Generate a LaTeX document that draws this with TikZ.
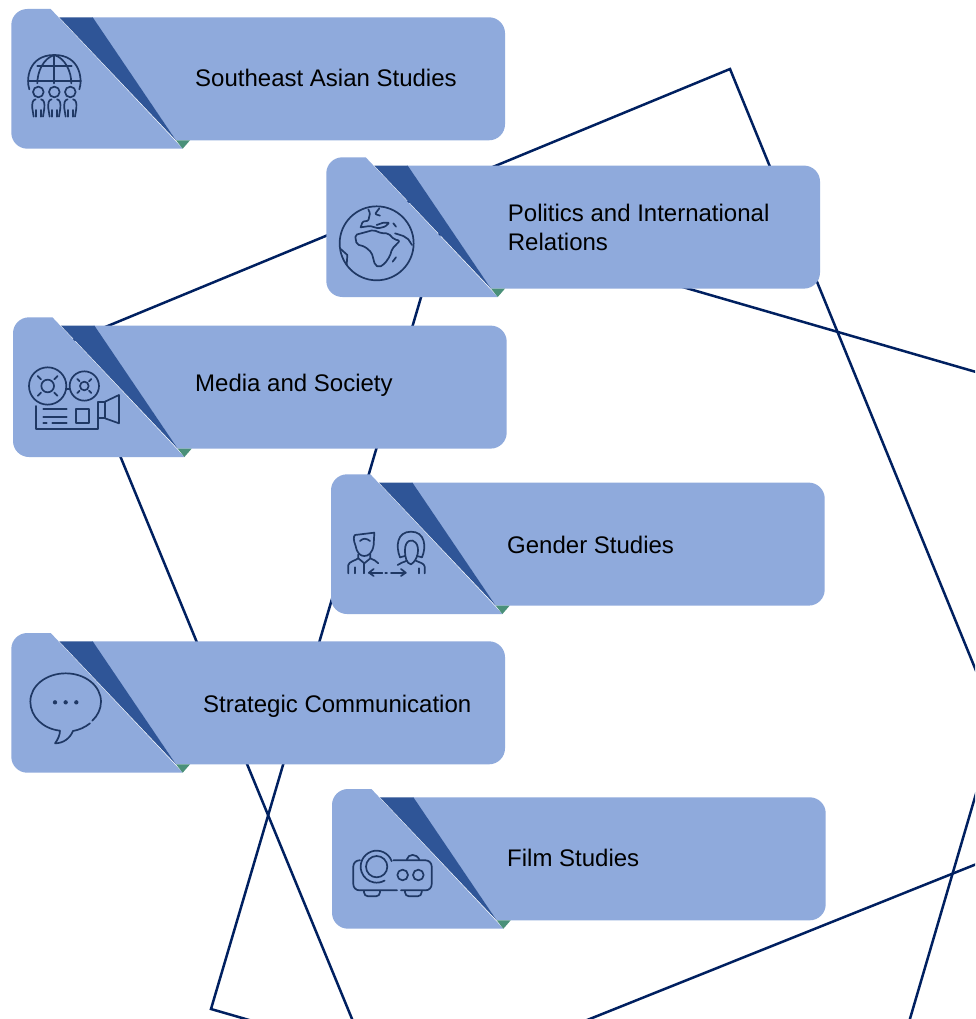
\documentclass[tikz,border=0pt]{standalone}
\usepackage{fontspec}
\usetikzlibrary{calc}
\setmainfont{Liberation Sans}
\definecolor{cardc}{HTML}{8FAADC}
\definecolor{darkc}{HTML}{2F5597}
\definecolor{greenc}{HTML}{4A9079}
\definecolor{linec}{HTML}{002060}
\definecolor{iconc}{HTML}{1F3864}
\newcommand{\cardshape}[2]{%
  \begin{scope}[shift={(#1,#2)}]
    \fill[cardc] (50.7,9) [rounded corners=16pt] -- (11.3,9) -- (11.3,148.7) [sharp corners] -- (182.7,148.7) -- cycle;
    \fill[cardc] (92,17.3) [rounded corners=16pt] -- (505,17.3) -- (505,140.3) [sharp corners] -- (176,140.3) -- cycle;
    \fill[darkc] (59.3,17.3) -- (92.7,17.3) -- (176,140.3) -- cycle;
    \fill[greenc] (176,140.3) -- (190,140.3) -- (182.7,148.7) -- cycle;
  \end{scope}}
\tikzset{
  frameline/.style={draw=linec,line width=2.5pt,line join=miter},
  iconline/.style={draw=iconc,line width=1.7pt,line cap=round,line join=round},
  izoom/.style={x=0.3333pt,y=-0.3333pt},
  cardtext/.style={anchor=base west,inner sep=0pt,text=black,align=left,font=\fontsize{24}{29}\selectfont}
}
\begin{document}
\begin{tikzpicture}[x=1pt,y=-1pt]
\useasboundingbox (0,0) rectangle (975,1019);
\fill[white] (0,0) rectangle (975,1019);
\begin{scope}
\clip (0,0) rectangle (975,1019);
\draw[frameline] (730,69) -- (72.6,340.5) -- (385.7,1100.7) -- (1044,837) -- cycle;
\draw[frameline] (444.4,218) -- (211,1009) -- (858,1196) -- (1090,405) -- cycle;
\end{scope}
\cardshape{0}{0}
\cardshape{315}{148.3}
\cardshape{1.7}{308.3}
\cardshape{319.7}{465.3}
\cardshape{0}{624}
\cardshape{320.7}{780}
\node[cardtext] (t1) at (195,86.7) {Southeast Asian Studies};
\node[cardtext] (t2a) at (507.7,221) {Politics and International};
\node[cardtext] (t2b) at (507.7,250) {Relations};
\node[cardtext] (t3) at (195,391) {Media and Society};
\node[cardtext] (t4) at (507,553) {Gender Studies};
\node[cardtext] (t5) at (203,712) {Strategic Communication};
\node[cardtext] (t6) at (507,866) {Film Studies};
% icon 1: globe and people
\begin{scope}[shift={(0,0)},izoom]
  \draw[iconline] (88,268) .. controls (78,240) and (84,165) .. (163,165) .. controls (242,165) and (248,240) .. (238,268);
  \draw[iconline] (163,165) -- (163,250);
  \draw[iconline] (112,198) -- (215,198);
  \draw[iconline] (84,243) -- (243,243);
  \draw[iconline] (163,165) .. controls (130,175) and (112,215) .. (112,250);
  \draw[iconline] (163,165) .. controls (196,175) and (214,215) .. (214,250);
  \foreach \px in {115,163,211} {
    \draw[iconline] (\px,276) circle[radius=16];
    \draw[iconline] (\px-8,298) .. controls (\px-18,300) and (\px-19,310) .. (\px-18,325) -- (\px-14,350);
    \draw[iconline] (\px+8,298) .. controls (\px+18,300) and (\px+19,310) .. (\px+18,325) -- (\px+14,350);
    \draw[iconline] (\px-8,330) -- (\px-8,350);
    \draw[iconline] (\px+8,330) -- (\px+8,350);
  }
\end{scope}
% icon 2: earth
\begin{scope}[shift={(320,150)},izoom]
  \draw[iconline] (170,280) circle[radius=111];
  \draw[iconline,rounded corners=2pt] (105,255) -- (110,283) -- (135,290) -- (155,308) -- (165,345) -- (178,352) -- (195,340) -- (210,318) -- (216,297) -- (240,272) -- (222,268) -- (205,250) -- (185,250) -- (160,240) -- (135,247) -- cycle;
  \draw[iconline,rounded corners=1pt] (122,232) -- (128,215) -- (145,212) -- (150,190) -- (145,178);
  \draw[iconline,rounded corners=1pt] (178,175) -- (165,192) -- (180,197);
  \draw[iconline,rounded corners=1pt] (122,232) -- (150,228) -- (175,235) -- (195,230) -- (208,218) -- (190,218) -- (170,225);
  \draw[iconline] (62,297) -- (82,315) -- (80,345);
  \draw[iconline] (218,335) -- (228,322);
  \draw[iconline] (220,220) -- (228,230);
  \draw[iconline] (225,250) -- (250,258) -- (265,268) -- (276,285);
\end{scope}
% icon 3: film camera
\begin{scope}[shift={(5,310)},izoom]
  \draw[iconline] (128,228) circle[radius=56];
  \draw[iconline] (128,228) circle[radius=19];
  \draw[iconline] (238,228) circle[radius=44];
  \draw[iconline] (238,228) circle[radius=13];
  \foreach \a in {45,135,225,315} {
    \draw[iconline] ($(128,228)+(\a:28)$) -- ($(128,228)+(\a:42)$);
    \draw[iconline] ($(238,228)+(\a:20)$) -- ($(238,228)+(\a:30)$);
  }
  \draw[iconline] (184,238) -- (194,238);
  \draw[iconline] (92,288) -- (92,358) -- (278,358) -- (278,275) -- (300,275) -- (300,325) -- (278,325);
  \draw[iconline] (300,275) -- (342,255) -- (342,340) -- (300,325);
  \draw[iconline] (115,298) -- (185,298);
  \draw[iconline] (115,320) -- (185,320);
  \draw[iconline] (115,340) -- (125,340);
  \draw[iconline] (142,340) -- (185,340);
  \draw[iconline] (212,298) rectangle (252,340);
\end{scope}
% icon 4: man and woman
\begin{scope}[shift={(325,470)},izoom]
  \draw[iconline] (92,228) .. controls (85,210) and (85,200) .. (90,195) -- (148,188) -- (146,225) .. controls (142,250) and (130,258) .. (118,258) .. controls (106,258) and (96,250) .. (92,228);
  \draw[iconline] (105,213) .. controls (115,203) and (125,205) .. (135,213);
  \draw[iconline] (100,253) -- (100,265) -- (118,280) -- (136,265) -- (136,253);
  \draw[iconline] (70,310) -- (70,285) .. controls (72,275) and (90,272) .. (100,265);
  \draw[iconline] (136,265) .. controls (145,270) and (155,272) .. (160,280);
  \draw[iconline] (118,280) -- (118,310);
  \draw[iconline] (90,292) -- (90,310);
  \draw[iconline] (132,308) -- (172,308);
  \draw[iconline] (146,297) -- (132,308) -- (146,318);
  \draw[iconline] (181,308) -- (186,308);
  \draw[iconline] (198,308) -- (242,308);
  \draw[iconline] (228,297) -- (242,308) -- (228,318);
  \draw[iconline] (225,262) .. controls (212,230) and (215,185) .. (258,185) .. controls (300,185) and (305,230) .. (291,262) -- (276,258);
  \draw[iconline] (225,262) -- (240,258);
  \draw[iconline] (240,240) .. controls (240,210) and (262,205) .. (272,218) .. controls (285,232) and (280,270) .. (258,283) .. controls (245,280) and (240,265) .. (240,240);
  \draw[iconline] (218,285) .. controls (225,278) and (235,278) .. (245,272);
  \draw[iconline] (299,310) -- (299,290) .. controls (298,280) and (285,278) .. (272,272);
  \draw[iconline] (283,295) -- (283,310);
\end{scope}
% icon 5: speech bubble
\begin{scope}[shift={(5,625)},izoom]
  \draw[iconline] (262,287) .. controls (278,272) and (288,252) .. (288,230) .. controls (288,182) and (240,145) .. (182,145) .. controls (124,145) and (76,182) .. (76,230) .. controls (76,275) and (115,312) .. (165,317) .. controls (165,330) and (158,345) .. (150,355) .. controls (175,355) and (195,340) .. (204,318) .. controls (222,315) and (240,307) .. (255,295);
  \fill[iconc] (150,232) circle[radius=6.5];
  \fill[iconc] (182,232) circle[radius=6.5];
  \fill[iconc] (214,232) circle[radius=6.5];
\end{scope}
% icon 6: projector
\begin{scope}[shift={(325,785)},izoom]
  \draw[iconline] (155,245) circle[radius=32];
  \draw[iconline] ($(155,245)+(-20:48)$) arc[start angle=-20,end angle=-300,radius=48];
  \draw[iconline] (233,270) circle[radius=16];
  \draw[iconline] (280,270) circle[radius=16];
  \draw[iconline,rounded corners=6pt] (105,226) -- (85,226) -- (85,316) -- (216,316);
  \draw[iconline,rounded corners=6pt] (228,316) -- (320,316) -- (320,226) -- (205,226);
  \draw[iconline] (245,224) .. controls (250,205) and (275,205) .. (283,224);
  \draw[iconline,rounded corners=4pt] (117,318) -- (117,334) -- (165,334) -- (165,318);
  \draw[iconline,rounded corners=4pt] (240,318) -- (240,334) -- (290,334) -- (290,318);
\end{scope}
\end{tikzpicture}
\end{document}
